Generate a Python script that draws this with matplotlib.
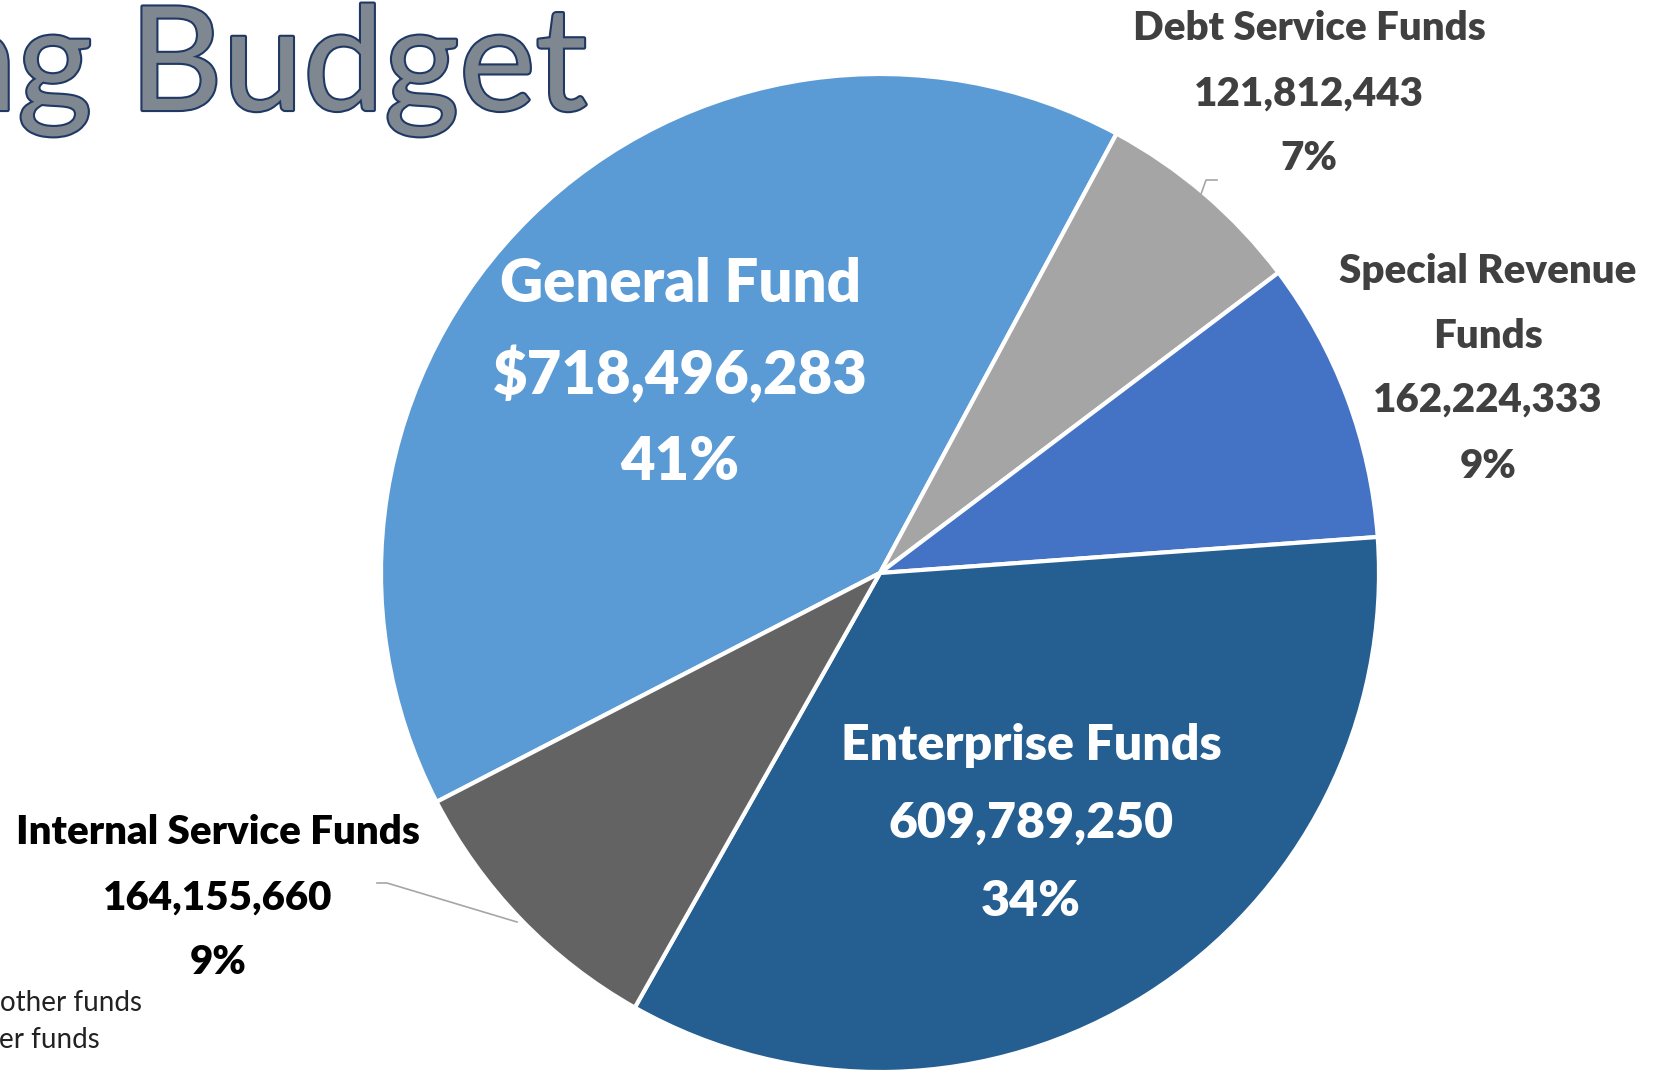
import matplotlib.pyplot as plt
import matplotlib.patheffects as pe

names = ["General Fund", "Debt Service Funds", "Special Revenue Funds",
         "Enterprise Funds", "Internal Service Funds"]
values = [718496283, 121812443, 162224333, 609789250, 164155660]
pct = [41, 7, 9, 34, 9]
colors = ["#5B9BD5", "#A5A5A5", "#4472C4", "#255E91", "#636363"]

plt.rcParams["font.family"] = ["Lato", "DejaVu Sans"]

W, H = 1659, 1071
fig = plt.figure(figsize=(W / 100, H / 100), dpi=100, facecolor="white")
ax = fig.add_axes([0, 0, 1, 1])

def Y(y):
    return H - y

cx, cy, r = 880, 573, 499
ax.pie(values, colors=colors, center=(cx, Y(cy)), radius=r, startangle=207.3,
       counterclock=False, frame=True,
       wedgeprops=dict(edgecolor="white", linewidth=3))
ax.set_xlim(0, W)
ax.set_ylim(0, H)
ax.set_aspect("equal")
ax.axis("off")

# title (cut off on the left in the source slide)
ax.text(588, Y(110), "Operating Budget", ha="right", va="baseline", fontsize=104,
        color="#7F8790",
        path_effects=[pe.withStroke(linewidth=3, foreground="#1F3864")])

wt = "heavy"

# General Fund label
g = [names[0], "$" + format(values[0], ","), f"{pct[0]}%"]
for txt, y in zip(g, [284, 375, 463]):
    ax.text(680, Y(y), txt, ha="center", va="center", fontsize=43,
            fontweight=wt, color="white")

# Enterprise label
e = [names[3], format(values[3], ","), f"{pct[3]}%"]
for txt, y in zip(e, [746, 823, 901]):
    ax.text(1031, Y(y), txt, ha="center", va="center", fontsize=36,
            fontweight=wt, color="white")

# Debt service label
d = [names[1], format(values[1], ","), f"{pct[1]}%"]
for txt, y in zip(d, [29, 94, 159]):
    ax.text(1309, Y(y), txt, ha="center", va="center", fontsize=29,
            fontweight=wt, color="#404040")

# Special revenue label
s = ["Special Revenue", "Funds", format(values[2], ","), f"{pct[2]}%"]
for txt, y in zip(s, [271, 336, 400, 466]):
    ax.text(1488, Y(y), txt, ha="center", va="center", fontsize=29,
            fontweight=wt, color="#404040")

# Internal service label
n = [names[4], format(values[4], ","), f"{pct[4]}%"]
for txt, y in zip(n, [833, 898, 963]):
    ax.text(218, Y(y), txt, ha="center", va="center", fontsize=29,
            fontweight=wt, color="black")

# leader lines
ax.plot([1200, 1206, 1217], [Y(197), Y(180), Y(180)], color="#A6A6A6", lw=1.2)
ax.plot([377, 387, 517], [Y(883), Y(883), Y(922)], color="#A6A6A6", lw=1.2)

# footnote fragments
ax.text(142, Y(1003), "other funds", ha="right", va="center", fontsize=20,
        color="#222222")
ax.text(100, Y(1040), "er funds", ha="right", va="center", fontsize=20,
        color="#222222")

fig.savefig("out.png", dpi=100, facecolor="white")
